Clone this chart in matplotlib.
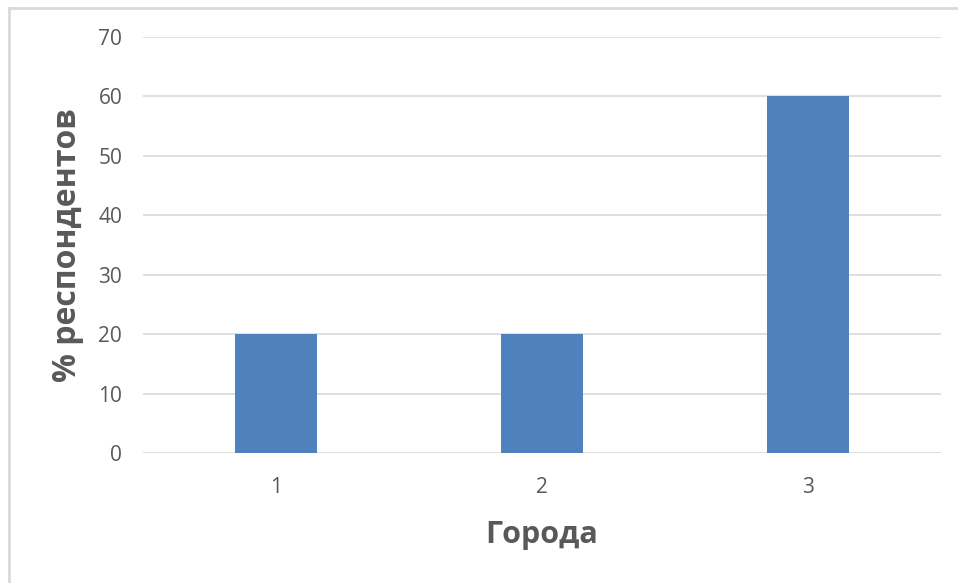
import matplotlib
matplotlib.use('Agg')
import matplotlib.pyplot as plt
from matplotlib.lines import Line2D

plt.rcParams['font.family'] = ['Open Sans', 'DejaVu Sans']

cities = ['1', '2', '3']
percents = [20, 20, 60]
yticks = [0, 10, 20, 30, 40, 50, 60, 70]

fig = plt.figure(figsize=[9.58, 5.83], dpi=100)
ax = fig.add_axes([143/958, 1 - 453/583, (941 - 143)/958, (453 - 37)/583])

pos = list(range(1, len(cities) + 1))
ax.bar(pos, percents, width=0.31, color='#4F81BD', zorder=3)

ax.set_xlim(0.5, len(cities) + 0.5)
ax.set_ylim(0, 70)
ax.set_yticks(yticks)
ax.set_xticks(pos, cities)
ax.grid(axis='y', color='#D9D9D9', linewidth=1.2, zorder=0)
for s in ax.spines.values():
    s.set_visible(False)
ax.tick_params(axis='both', length=0, labelsize=15, colors='#595959')
ax.tick_params(axis='y', pad=15)
ax.tick_params(axis='x', pad=17)
ax.set_ylabel('% респондентов', fontsize=23, fontweight='bold', color='#595959', labelpad=10)
ax.set_xlabel('Города', fontsize=22, fontweight='bold', color='#595959', labelpad=16)

# chart area border (only top and left are visible in the crop)
x0, y0 = 9/958, 1 - 8/583
fig.lines.append(Line2D([x0, 1], [y0, y0], transform=fig.transFigure, color='#D9D9D9', linewidth=2))
fig.lines.append(Line2D([x0, x0], [0, y0], transform=fig.transFigure, color='#D9D9D9', linewidth=2))

plt.savefig('out.png', dpi=100)
